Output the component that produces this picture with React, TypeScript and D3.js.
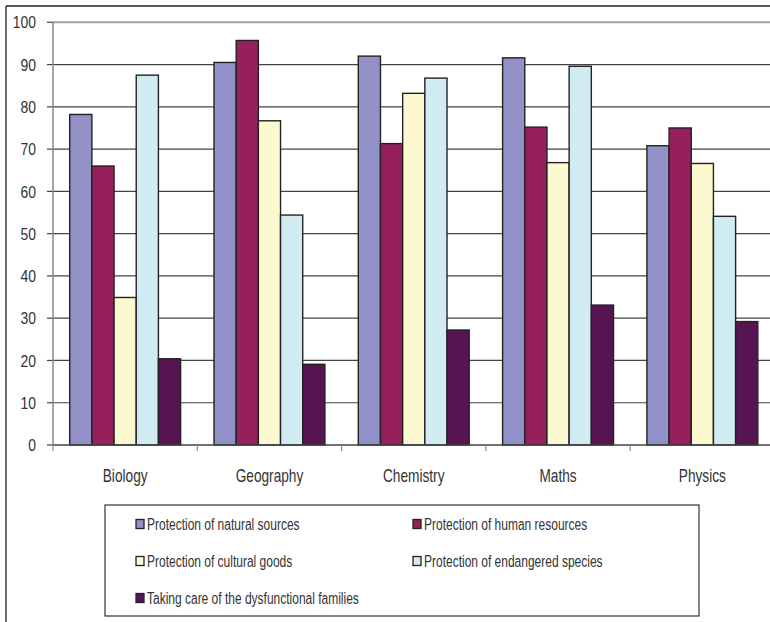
import React from "react";
import * as d3 from "d3";

const categories = ["Biology", "Geography", "Chemistry", "Maths", "Physics"];
const seriesNames = [
  "Protection of natural sources",
  "Protection of human resources",
  "Protection of cultural goods",
  "Protection of endangered species",
  "Taking care of the dysfunctional families",
];
const naturalSources = [78.2, 90.5, 92.0, 91.6, 70.8];
const humanResources = [66.0, 95.7, 71.3, 75.2, 75.0];
const culturalGoods = [34.9, 76.7, 83.2, 66.8, 66.6];
const endangeredSpecies = [87.5, 54.4, 86.8, 89.6, 54.1];
const dysfunctionalFamilies = [20.4, 19.1, 27.2, 33.1, 29.2];
const seriesValues = [naturalSources, humanResources, culturalGoods, endangeredSpecies, dysfunctionalFamilies];
const colors = ["#9191c8", "#961f5c", "#fcf8cf", "#d0ecf2", "#571452"];
const yTicks = [0, 10, 20, 30, 40, 50, 60, 70, 80, 90, 100];

const FONT = "'Liberation Sans', Arial, sans-serif";

function CText(props: { x: number; y: number; sx: number; size: number; anchor?: string; dy?: string; children: React.ReactNode }) {
  const { x, y, sx, size, anchor, dy, children } = props;
  return (
    <text transform={`translate(${x},${y}) scale(${sx},1)`} dy={dy} textAnchor={anchor || "start"}
      fontFamily={FONT} fontSize={size} fill="#333">{children}</text>
  );
}

export default function App() {
  const W = 770, H = 622;
  const x0 = d3.scaleBand<string>().domain(categories).range([53, 774.5]).paddingInner(0).paddingOuter(0);
  const pad = 16.7;
  const x1 = d3.scaleBand<string>().domain(seriesNames).range([pad, x0.bandwidth() - pad]);
  const y = d3.scaleLinear().domain([0, 100]).range([445, 22.3]);

  const legendRows = [
    [0, 1],
    [2, 3],
    [4],
  ];
  const legendY = [524, 561, 598];
  const legendX = [136, 413];

  return (
    <svg width={W} height={H} style={{ position: "absolute", left: 0, top: 0, background: "#fff" }}>
      {/* outer frame */}
      <line x1={6} x2={W} y1={6} y2={6} stroke="#222" strokeWidth={1.3} />
      <line x1={6} x2={6} y1={6} y2={H} stroke="#222" strokeWidth={1.3} />

      {/* gridlines */}
      {yTicks.filter((t) => t > 0).map((t) => (
        <line key={"g" + t} x1={53} x2={W} y1={y(t)} y2={y(t)}
          stroke={t === 100 ? "#a0a0a4" : "#444"} strokeWidth={t === 100 ? 2 : 1.2} />
      ))}
      {/* y axis ticks and labels */}
      {yTicks.map((t) => (
        <g key={"t" + t}>
          <line x1={47} x2={53} y1={y(t)} y2={y(t)} stroke="#444" strokeWidth={1.2} />
          <CText x={36} y={y(t)} dy="0.36em" anchor="end" size={17} sx={0.82}>{t}</CText>
        </g>
      ))}
      <line x1={53} x2={53} y1={y(100)} y2={y(0)} stroke="#888" strokeWidth={1.5} />

      {/* bars */}
      {categories.map((c, ci) => (
        <g key={c} transform={`translate(${x0(c)},0)`}>
          {seriesNames.map((s, si) => {
            const v = seriesValues[si][ci];
            return (
              <rect key={s} x={x1(s)} y={y(v)} width={x1.bandwidth()} height={y(0) - y(v)}
                fill={colors[si]} stroke="#222" strokeWidth={1.4} />
            );
          })}
        </g>
      ))}

      {/* x axis */}
      <line x1={53} x2={W} y1={y(0)} y2={y(0)} stroke="#444" strokeWidth={1.4} />
      {categories.map((c) => (
        <line key={"xt" + c} x1={x0(c)} x2={x0(c)} y1={y(0)} y2={y(0) + 6} stroke="#888" strokeWidth={1.2} />
      ))}
      {categories.map((c) => (
        <CText key={"xl" + c} x={(x0(c) as number) + x0.bandwidth() / 2} y={482} anchor="middle" size={18} sx={0.76}>
          {c}
        </CText>
      ))}

      {/* legend */}
      <rect x={105} y={505} width={594} height={111} fill="#fff" stroke="#333" strokeWidth={1.2} />
      {legendRows.map((row, ri) =>
        row.map((si, k) => (
          <g key={"l" + si}>
            <rect x={legendX[k]} y={legendY[ri] - 4.5} width={8} height={9} fill={colors[si]} stroke="#222" strokeWidth={1.3} />
            <CText x={legendX[k] + 11} y={legendY[ri]} dy="0.36em" size={16} sx={0.75}>
              {seriesNames[si]}
            </CText>
          </g>
        ))
      )}
    </svg>
  );
}
